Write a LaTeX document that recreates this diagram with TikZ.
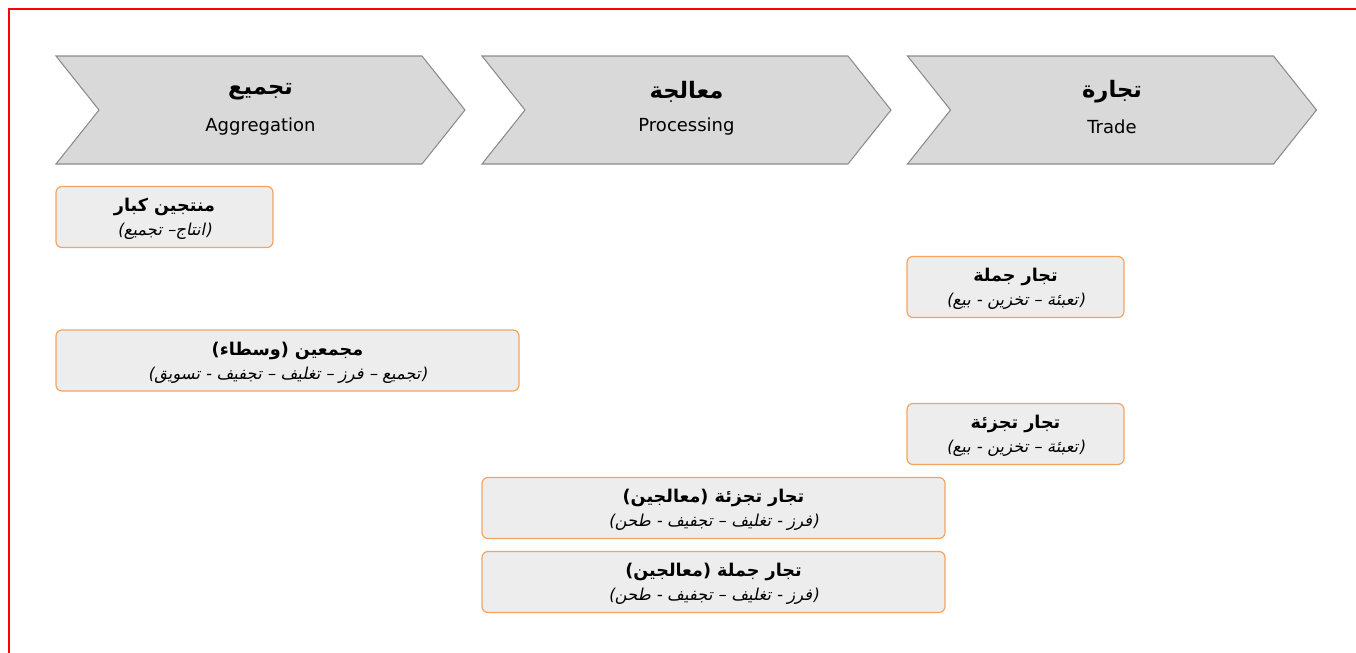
\documentclass[tikz,border=0pt]{standalone}
\usepackage{fontspec}
\setmainfont{DejaVu Sans}
\newfontfamily\arfont[Script=Arabic]{DejaVu Sans}
\newfontfamily\aritfont[Script=Arabic,FakeSlant=0.2]{DejaVu Sans}
\TeXXeTstate=1
\definecolor{chevfill}{RGB}{217,217,217}
\definecolor{chevline}{RGB}{140,140,140}
\definecolor{boxfill}{RGB}{237,237,237}
\definecolor{boxline}{RGB}{244,164,96}
\newcommand\chevshape[1]{%
  \draw[chev] (#1,56) -- ({#1+366},56) -- ({#1+409},110) -- ({#1+366},164) -- (#1,164) -- ({#1+43},110) -- cycle;}
\newcommand\artitle[1]{{\arfont\bfseries\fontsize{17}{18}\selectfont\beginR #1\endR}}
\newcommand\arline[1]{{\arfont\bfseries\fontsize{13.2}{18}\selectfont\rule{0pt}{13pt}\beginR #1\endR}}
\newcommand\aritline[1]{{\aritfont\fontsize{12.3}{18}\selectfont\beginR #1\endR}}
\begin{document}
\begin{tikzpicture}[x=0.75pt,y=-0.75pt,
  chev/.style={fill=chevfill,draw=chevline,line width=0.8pt},
  ttl/.style={inner sep=0pt,anchor=center},
  eng/.style={inner sep=0pt,anchor=center,font=\fontsize{13.5}{16}\selectfont},
  box/.style={fill=boxfill,draw=boxline,line width=0.9pt,rounded corners=4.5pt,
    inner sep=0pt,align=center,font=\fontsize{10.5}{18}\selectfont,
    minimum height={61*0.75pt}},
  narrow/.style={box,minimum width={217*0.75pt}},
  wide/.style={box,minimum width={463*0.75pt}}]
\useasboundingbox (0,0) rectangle (1356,653);
\draw[red,line width=1.5pt] (9,653) -- (9,9) -- (1356,9);
% chevrons
\chevshape{56}
\chevshape{482}
\chevshape{907.5}
\node[ttl] (t1) at (260.5,92) {\artitle{تجميع}};
\node[eng] (e1) at (260.5,127) {Aggregation};
\node[ttl] (t2) at (686.5,92) {\artitle{معالجة}};
\node[eng] (e2) at (686.5,127) {Processing};
\node[ttl] (t3) at (1112,92) {\artitle{تجارة}};
\node[eng] (e3) at (1112,127) {Trade};
% boxes
\node[narrow] (b1) at (164.5,217) {\arline{منتجين كبار}\\\aritline{(انتاج– تجميع)}};
\node[wide] (b2) at (287.5,360.5) {\arline{مجمعين (وسطاء)}\\\aritline{(تجميع – فرز – تغليف – تجفيف - تسويق)}};
\node[narrow] (b3) at (1015.5,287) {\arline{تجار جملة}\\\aritline{(تعبئة – تخزين - بيع)}};
\node[narrow] (b4) at (1015.5,434) {\arline{تجار تجزئة}\\\aritline{(تعبئة – تخزين - بيع)}};
\node[wide] (b5) at (713.5,508) {\arline{تجار تجزئة (معالجين)}\\\aritline{(فرز - تغليف – تجفيف - طحن)}};
\node[wide] (b6) at (713.5,582) {\arline{تجار جملة (معالجين)}\\\aritline{(فرز - تغليف – تجفيف - طحن)}};
\end{tikzpicture}
\end{document}
